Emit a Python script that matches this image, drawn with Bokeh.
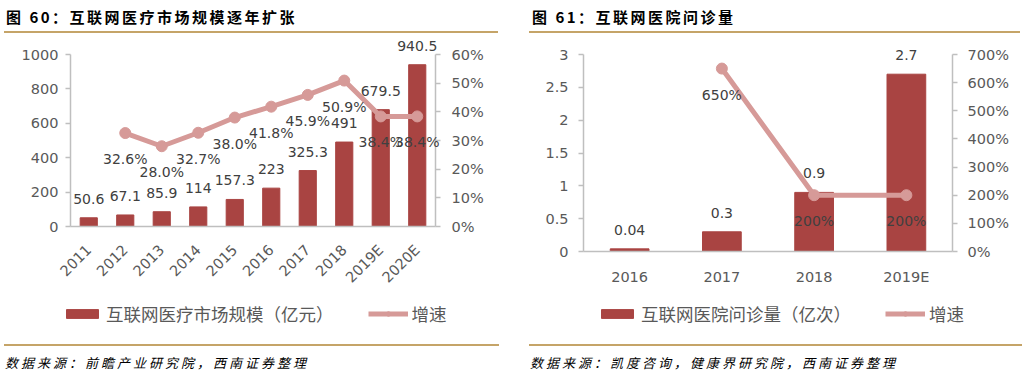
from math import pi
from bokeh.plotting import figure
from bokeh.models import (ColumnDataSource, Range1d, FactorRange, LinearAxis, Legend, LegendItem,
                          LabelSet, PrintfTickFormatter, CustomJSTickFormatter, Div)
from bokeh.core.properties import value
from bokeh.layouts import row, column
from bokeh.embed import file_html
from bokeh.resources import INLINE

# ---------------- data ----------------
years_60 = ["2011", "2012", "2013", "2014", "2015", "2016", "2017", "2018", "2019E", "2020E"]
market_size = [50.6, 67.1, 85.9, 114, 157.3, 223, 325.3, 491, 679.5, 940.5]
growth_years_60 = ["2012", "2013", "2014", "2015", "2016", "2017", "2018", "2019E", "2020E"]
market_growth = [32.6, 28.0, 32.7, 38.0, 41.8, 45.9, 50.9, 38.4, 38.4]
y_ticks_60 = [0, 200, 400, 600, 800, 1000]
pct_ticks_60 = [0, 10, 20, 30, 40, 50, 60]

years_61 = ["2016", "2017", "2018", "2019E"]
visits = [0.04, 0.3, 0.9, 2.7]
growth_years_61 = ["2017", "2018", "2019E"]
visits_growth = [650, 200, 200]
y_ticks_61 = [0, 0.5, 1, 1.5, 2, 2.5, 3]
pct_ticks_61 = [0, 100, 200, 300, 400, 500, 600, 700]

title_60 = "图 60：互联网医疗市场规模逐年扩张"
title_61 = "图 61：互联网医院问诊量"
source_60 = "数据来源：前瞻产业研究院，西南证券整理"
source_61 = "数据来源：凯度咨询，健康界研究院，西南证券整理"
legend_bar_60 = "互联网医疗市场规模（亿元）"
legend_bar_61 = "互联网医院问诊量（亿次）"
legend_line = "增速"

# ---------------- styles ----------------
BAR = "#A94442"
LINE = "#D69A98"
GOLD = "#C5A468"
AXIS = "#BFBFBF"
TICK_TXT = "#595959"
LBL_TXT = "#404040"
NUM_FONT = "DejaVu Sans"
CJK = "Noto Sans CJK SC"

FIG_H = 311
FRAME_TOP = 3      # px below figure top
FRAME_BOT = 307    # px below figure top


def style_axis(ax, standoff):
    ax.axis_line_color = AXIS
    ax.axis_line_width = 1.5
    ax.major_tick_line_color = AXIS
    ax.major_tick_line_width = 1.5
    ax.major_tick_out = 5
    ax.major_tick_in = 0
    ax.minor_tick_line_color = None
    ax.major_label_text_font = NUM_FONT
    ax.major_label_text_font_size = "14.5px"
    ax.major_label_text_color = TICK_TXT
    ax.major_label_standoff = standoff


def px_range(lo, hi, zero_px, hi_px):
    """Range so that value lo sits at zero_px and hi at hi_px (px from figure top)."""
    scale = (zero_px - hi_px) / (hi - lo)
    return Range1d(lo - (FRAME_BOT - zero_px) / scale, hi + (hi_px - FRAME_TOP) / scale)


def make_panel(cats, bars, gcats, growth, yticks, pticks, bar_label, width,
               plot_l, plot_w, zero_px, hi_px, bar_w, left_fmt, rotate, lstand, rstand, xstand,
               leg_x, pct_fmt):
    n = len(cats)
    pad = plot_l / (plot_w / n)            # categories of padding on each side
    frame_w = 2 * plot_l + plot_w
    xr = FactorRange(factors=cats, range_padding=pad, range_padding_units="absolute")
    p = figure(x_range=xr, y_range=px_range(yticks[0], yticks[-1], zero_px, hi_px),
               width=width, height=FIG_H, output_backend="svg", toolbar_location=None,
               min_border_left=0, min_border_right=width - frame_w, min_border_top=FRAME_TOP,
               min_border_bottom=FIG_H - FRAME_BOT)
    p.outline_line_color = None
    p.xgrid.visible = False
    p.ygrid.visible = False
    p.background_fill_color = "white"
    p.border_fill_color = "white"

    left_ax = p.yaxis[0]
    style_axis(left_ax, lstand)
    left_ax.ticker = yticks
    left_ax.bounds = (yticks[0], yticks[-1])
    left_ax.fixed_location = 0
    if left_fmt is not None:
        left_ax.formatter = left_fmt

    p.extra_y_ranges = {"pct": px_range(pticks[0], pticks[-1], zero_px, hi_px)}
    rax = LinearAxis(y_range_name="pct", ticker=pticks, formatter=PrintfTickFormatter(format="%d%%"))
    style_axis(rax, rstand)
    rax.bounds = (pticks[0], pticks[-1])
    rax.fixed_location = n
    p.add_layout(rax, "right")

    # category axis pinned at value 0 inside the frame
    xax = p.xaxis[0]
    style_axis(xax, xstand)
    xax.major_tick_line_color = None
    xax.fixed_location = 0
    xax.bounds = (0, n)
    if rotate:
        xax.major_label_orientation = pi / 4

    bsrc = ColumnDataSource(dict(x=cats, top=bars, lbl=[f"{v:g}" for v in bars]))
    vb = p.vbar(x="x", top="top", width=bar_w, source=bsrc, fill_color=BAR, line_color=BAR)

    gsrc = ColumnDataSource(dict(x=gcats, y=growth, lbl=[pct_fmt.format(v) for v in growth]))
    ln = p.line(x="x", y="y", source=gsrc, y_range_name="pct", line_color=LINE, line_width=5,
                line_join="round")
    sc = p.scatter(x="x", y="y", source=gsrc, y_range_name="pct", size=11,
                   fill_color=LINE, line_color=LINE)

    p.add_layout(LabelSet(x="x", y="top", text="lbl", source=bsrc, text_align="center",
                          text_baseline="middle", y_offset=19, text_font=value(NUM_FONT),
                          text_font_size=value("14px"), text_color=LBL_TXT))
    p.add_layout(LabelSet(x="x", y="y", text="lbl", source=gsrc, y_range_name="pct",
                          text_align="center", text_baseline="middle", y_offset=-26,
                          text_font=value(NUM_FONT), text_font_size=value("14px"),
                          text_color=LBL_TXT))

    leg = Legend(items=[LegendItem(label=bar_label, renderers=[vb]),
                        LegendItem(label=legend_line, renderers=[ln, sc])],
                 orientation="horizontal", location=(leg_x, 14), glyph_width=40, glyph_height=11,
                 label_height=22, label_standoff=4, spacing=34, padding=0, margin=0,
                 label_text_font=CJK, label_text_font_size="17.5px", label_text_color=TICK_TXT,
                 border_line_color=None, background_fill_alpha=0)
    p.add_layout(leg, "center")
    return p


# figure starts at y=33 on the page; zero/top tick rows given in figure px
p60 = make_panel(years_60, market_size, growth_years_60, market_growth, y_ticks_60, pct_ticks_60,
                 legend_bar_60, 518, 70, 365, 226 - 33, 54 - 33, 0.47, None, True, 7, 11, 16,
                 62, "{:.1f}%")
p61 = make_panel(years_61, visits, growth_years_61, visits_growth, y_ticks_61, pct_ticks_61,
                 legend_bar_61, 513, 65, 369, 251 - 33, 54 - 33, 0.42,
                 CustomJSTickFormatter(code="return tick.toString();"), False, 10, 10, 12,
                 79, "{:g}%")


def title_div(text, w, ml, pl, total):
    html = (f"<div style=\"font-family:'{CJK}';font-weight:bold;font-size:15px;letter-spacing:2.5px;"
            f"line-height:18px;color:#000;padding-top:8px;padding-bottom:5px;"
            f"border-bottom:2px solid {GOLD};margin-left:{ml}px;padding-left:{pl}px;"
            f"width:{w - pl}px;white-space:nowrap;\">{text}</div>")
    return Div(text=html, width=total, height=33, margin=0)


def source_div(text, w, ml, pl, total):
    html = (f"<div style=\"font-family:'{CJK}';font-style:italic;font-size:13px;letter-spacing:3px;"
            f"line-height:16px;color:#000;border-top:2px solid {GOLD};padding-top:9px;"
            f"margin-left:{ml}px;padding-left:{pl}px;width:{w - pl}px;white-space:nowrap;\">"
            f"{text}</div>")
    return Div(text=html, width=total, height=30, margin=0)


left = column(title_div(title_60, 496, 4, 2, 518), p60, source_div(source_60, 496, 4, 1, 518),
              width=518)
right = column(title_div(title_61, 494, 11, 3, 513), p61, source_div(source_61, 494, 11, 1, 513),
               width=513)
layout = row(left, right)

open("out.html", "w").write(file_html(layout, INLINE))
